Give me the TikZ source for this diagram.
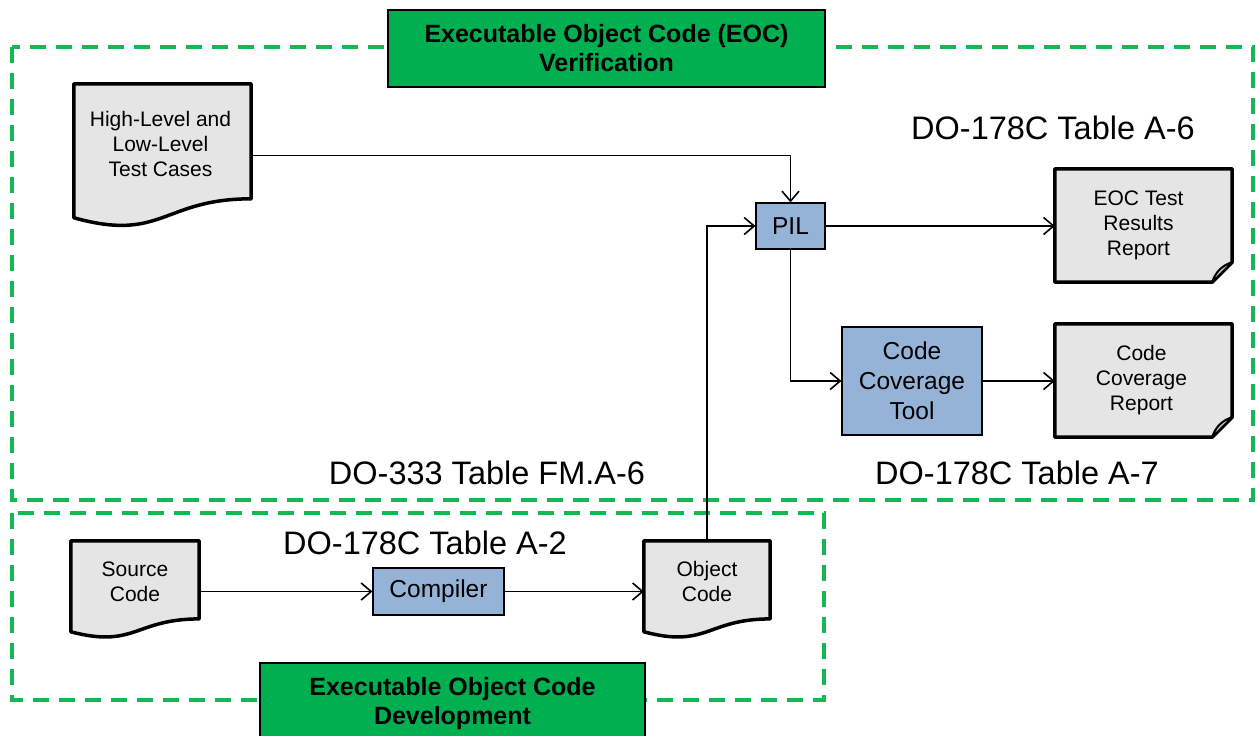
\documentclass[tikz,border=0pt]{standalone}
\usepackage{fontspec}
\setmainfont{Liberation Sans}
\usetikzlibrary{arrows.meta,calc}

\definecolor{hdrgreen}{RGB}{0,176,80}
\definecolor{dashgreen}{RGB}{20,185,85}
\definecolor{toolblue}{RGB}{149,179,215}
\definecolor{docgray}{RGB}{229,229,229}
\definecolor{foldgray}{RGB}{195,195,195}

\tikzset{
  dashbox/.style={draw=dashgreen, line width=3.5pt, dash pattern=on 16pt off 10pt},
  header/.style={draw=black, line width=1.2pt, fill=hdrgreen, inner sep=0pt,
    font=\bfseries\fontsize{25}{29}\selectfont, align=center},
  tool/.style={draw=black, line width=1.2pt, fill=toolblue, inner sep=0pt,
    font=\fontsize{24.5}{30}\selectfont, align=center},
  docbox/.style={inner sep=0pt},
  doctext/.style={inner sep=0pt, font=\fontsize{21}{25}\selectfont, align=center},
  docline/.style={draw=black, line width=3.5pt, fill=docgray, line join=round},
  foldline/.style={draw=black, line width=2pt, fill=foldgray, line join=round},
  tablelabel/.style={inner sep=0pt, font=\fontsize{32.5}{38}\selectfont},
  conn/.style={line width=1.8pt, -{Straight Barb[length=10pt,width=17pt,line width=1.6pt]}},
}

% document symbol with a wavy lower edge, drawn over the bounds of node #1
\newcommand\wavydoc[1]{%
  \path[docline] (#1.north west) -- (#1.north east)
    -- ($(#1.north east)!0.802!(#1.south east)$)
    .. controls ($(#1.north)!0.802!(#1.south)$) and ($(#1.north)!1.1075!(#1.south)$)
    .. ($(#1.north west)!0.934!(#1.south west)$) -- cycle;}

% report symbol with a folded lower right corner, drawn over the bounds of node #1
\newcommand\foldeddoc[1]{%
  \path[docline] (#1.north west) -- (#1.north east)
    -- ($(#1.south east)+(0pt,20pt)$) -- ($(#1.south east)+(-20pt,0pt)$)
    -- (#1.south west) -- cycle;
  \path[foldline] ($(#1.south east)+(-20pt,0pt)$)
    .. controls ($(#1.south east)+(-17pt,10pt)$) and ($(#1.south east)+(-10pt,17pt)$)
    .. ($(#1.south east)+(0pt,20pt)$) -- cycle;}

\begin{document}
\begin{tikzpicture}[x=1pt,y=-1pt]
\useasboundingbox (0,0) rectangle (1256,736);

% process boundaries
\draw[dashbox] (12,47) rectangle (1253,500);
\draw[dashbox] (12,513) rectangle (824,700);

% headings
\node[header, minimum width=437pt, minimum height=77pt] (verif) at (606.5,48.5)
  {Executable Object Code (EOC)\\Verification};
\node[header, minimum width=385pt, minimum height=82pt] (devel) at (452.5,704)
  {Executable Object Code\\Development};

% standard references
\node[tablelabel] (a6) at (1053,128) {DO-178C Table A-6};
\node[tablelabel] (fma6) at (487,473) {DO-333 Table FM.A-6};
\node[tablelabel] (a7) at (1017,473) {DO-178C Table A-7};
\node[tablelabel] (a2) at (425,543) {DO-178C Table A-2};

% documents
\node[docbox, minimum width=177pt, minimum height=143pt] (hl) at (162.5,155.5) {};
\wavydoc{hl}
\node[doctext] (hl-text) at ($(hl.north)!0.42!(hl.south)+(-2pt,0pt)$) {High-Level and\\Low-Level\\Test Cases};

\node[docbox, minimum width=128pt, minimum height=97pt] (src) at (135,589.5) {};
\wavydoc{src}
\node[doctext] (src-text) at ($(src.north)!0.42!(src.south)$) {Source\\Code};

\node[docbox, minimum width=126pt, minimum height=97pt] (obj) at (707,589.5) {};
\wavydoc{obj}
\node[doctext] (obj-text) at ($(obj.north)!0.42!(obj.south)$) {Object\\Code};

% reports
\node[docbox, minimum width=177pt, minimum height=113pt] (eoc) at (1143.5,225.5) {};
\foldeddoc{eoc}
\node[doctext] (eoc-text) at ($(eoc.center)+(-5pt,0pt)$) {EOC Test\\Results\\Report};

\node[docbox, minimum width=177pt, minimum height=113pt] (ccr) at (1143.5,380.5) {};
\foldeddoc{ccr}
\node[doctext] (ccr-text) at ($(ccr.center)+(-2pt,0pt)$) {Code\\Coverage\\Report};

% tools
\node[tool, minimum width=69pt, minimum height=46pt] (pil) at (790.5,226) {PIL};
\node[tool, minimum width=140pt, minimum height=108pt] (cct) at (912,381) {Code\\Coverage\\Tool};
\node[tool, minimum width=131pt, minimum height=47pt] (comp) at (438.5,591.5) {Compiler};

% data flow
\draw[conn] (hl.east) -| (pil.north);
\draw[conn] (obj.north) |- (pil.west);
\draw[conn] (pil.east) -- (pil.east -| eoc.west);
\draw[conn] (pil.south) |- (cct.west);
\draw[conn] (cct.east) -- (cct.east -| ccr.west);
\draw[conn] (src.east |- comp.west) -- (comp.west);
\draw[conn] (comp.east) -- (comp.east -| obj.west);
\end{tikzpicture}
\end{document}
